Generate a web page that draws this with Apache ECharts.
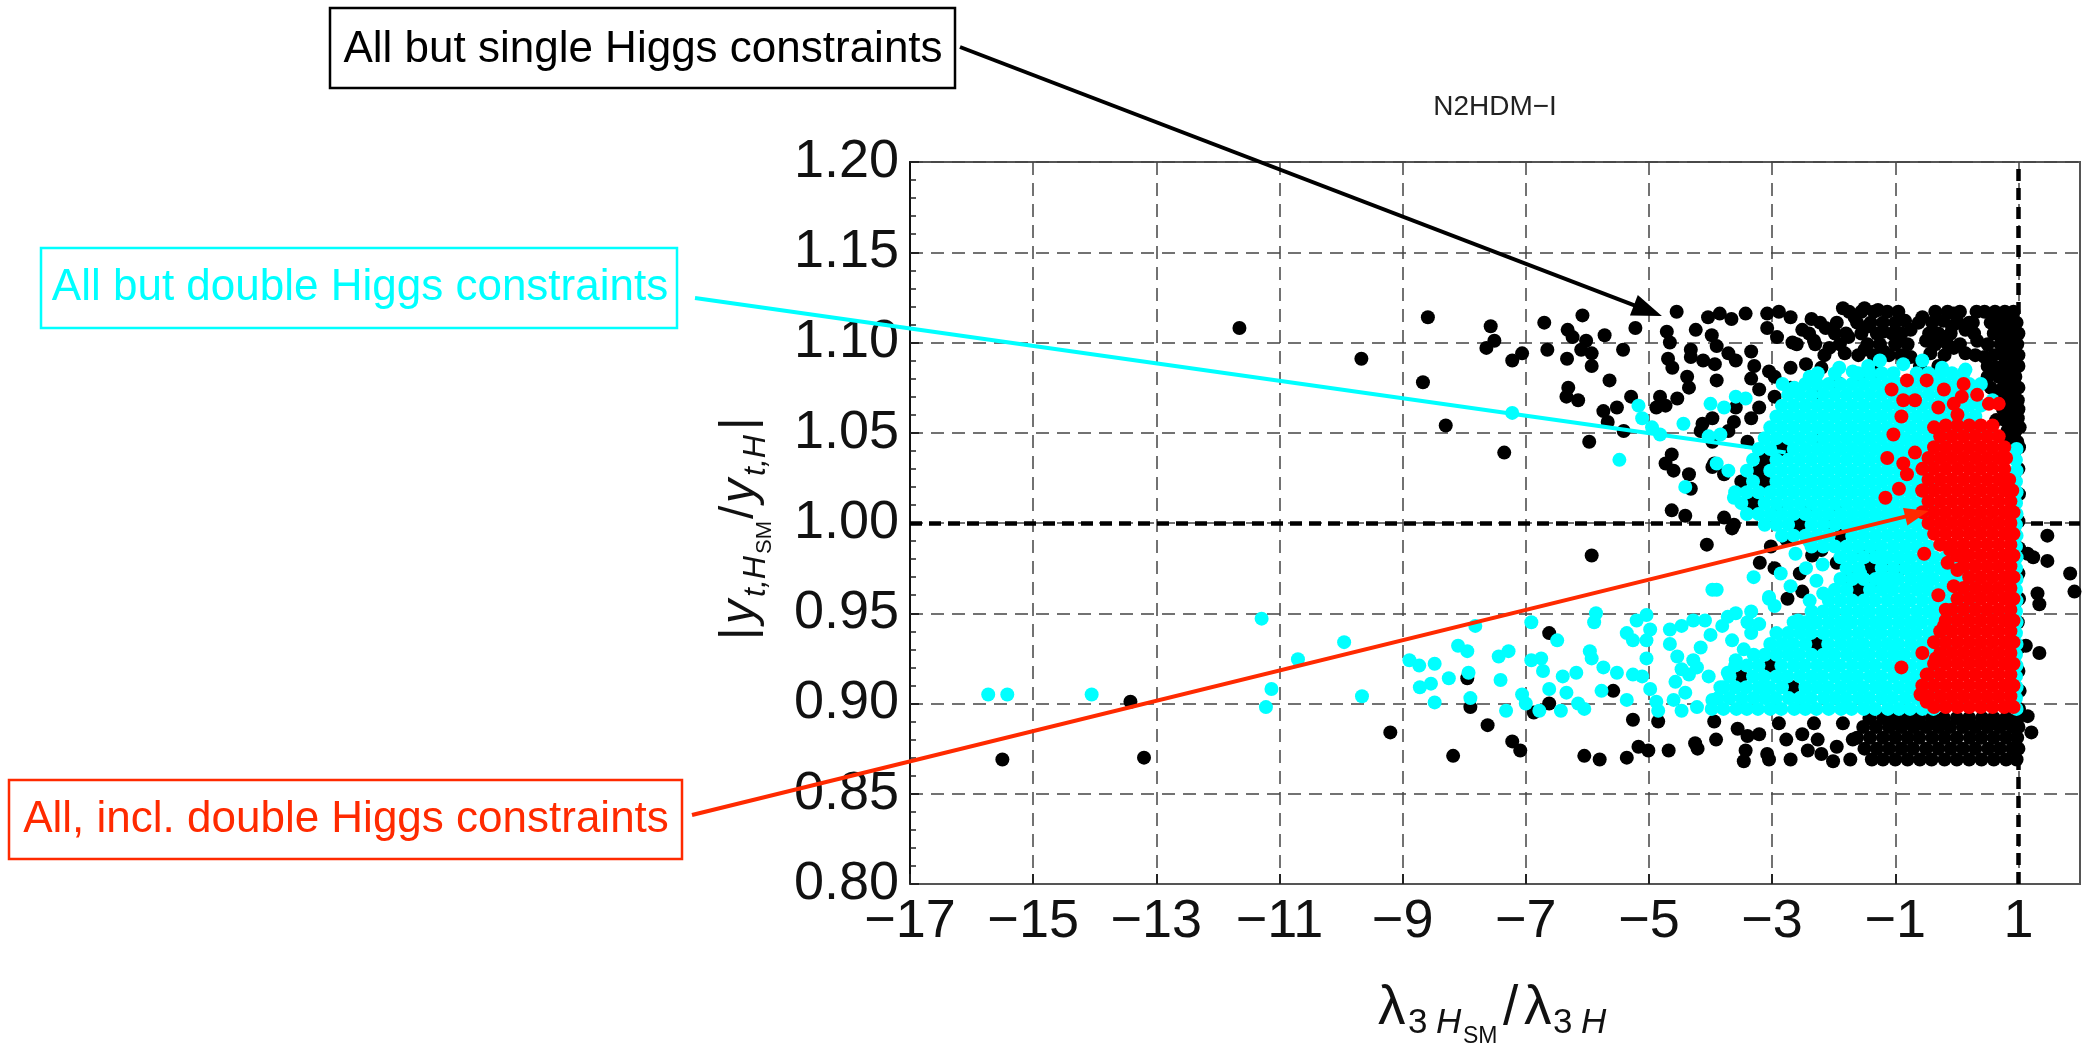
<!DOCTYPE html>
<html>
<head>
<meta charset="utf-8">
<title>N2HDM-I</title>
<script src="https://cdn.jsdelivr.net/npm/echarts@6/dist/echarts.min.js"></script>
<style>
  html, body { margin: 0; padding: 0; background: #ffffff; }
  #main { width: 2090px; height: 1047px; }
</style>
</head>
<body>
<div id="main"></div>
<script>
// ---------------------------------------------------------------
// Axis ticks
// ---------------------------------------------------------------
const xTicks = [-17, -15, -13, -11, -9, -7, -5, -3, -1, 1];
const yTickStep = 0.05;

// ---------------------------------------------------------------
// "All but single Higgs constraints" (black) — isolated points
// ---------------------------------------------------------------
const blackPoints = [
  [-15.5,0.869],[-13.42,0.901],[-13.2,0.870],[-11.65,1.108],[-9.67,1.091],[-9.2,0.884],[-8.67,1.078],[-8.59,1.114],[-8.30,1.054],[-8.18,0.871],[-7.95,0.914],[-7.9,0.898],
  [-7.64,1.097],[-7.57,1.109],[-7.51,1.101],[-7.35,1.039],[-7.22,1.090],[-7.06,1.094],[-6.70,1.111],[-6.65,1.096],[-6.34,1.070],[-6.33,1.091],[-6.32,1.107],[-6.31,1.075],[-6.24,1.103],[-6.15,1.068],[-6.10,1.096],[-6.08,1.115],[-6.02,1.101],[-5.97,1.045],[-5.93,1.094],[-5.93,1.087],[-5.74,1.062],[-5.72,1.104],[-5.67,1.056],[-5.64,1.079],[-5.52,1.064],[-5.42,1.096],[-5.41,1.051],[-5.29,1.070],[-5.22,1.108],
  [-4.88,1.064],[-4.82,1.070],[-4.73,1.065],[-4.73,1.033],[-4.71,1.106],[-4.69,1.091],[-4.66,1.100],[-4.63,1.038],[-4.63,1.007],[-4.62,1.086],[-4.60,1.029],[-4.55,1.117],[-4.54,1.069],[-4.41,1.004],[-4.38,1.081],[-4.35,1.075],[-4.35,1.027],[-4.32,1.096],[-4.32,1.092],[-4.32,1.019],[-4.24,1.107],[-4.16,1.051],[-4.13,1.055],[-4.12,1.090],[-4.04,1.114],[-3.98,1.104],[-3.97,1.058],[-3.97,1.045],[-3.97,1.031],[-3.94,1.033],[-3.93,1.088],[-3.90,1.098],[-3.90,1.079],[-3.85,1.116],[-3.78,1.027],[-3.78,1.003],[-3.71,1.094],[-3.71,1.051],[-3.66,1.113],[-3.65,0.997],[-3.62,1.056],[-3.59,1.090],[-3.59,1.064],[-3.43,1.116],[-3.40,1.045],[-3.34,1.095],[-3.34,1.080],[-3.34,1.058],[-3.29,1.087],[-3.21,1.074],[-3.21,1.064],[-3.21,1.012],
  [-3.08,1.116],[-3.08,1.108],[-3.05,1.084],[-2.96,1.081],[-2.96,1.070],[-2.92,1.103],[-2.89,1.117],[-2.89,1.008],[-2.70,1.114],[-2.70,1.086],[-2.70,1.075],[-2.67,1.100],[-2.58,0.999],[-2.51,1.107],[-2.45,1.088],[-2.39,1.007],[-2.36,1.113],[-2.32,1.101],[-2.32,1.071],[-2.20,1.086],[-2.13,1.108],[-2.07,1.097],[-2.07,0.999],[-1.95,1.078],[-1.95,1.008],[-1.85,1.119],[-1.82,1.094],[-1.76,1.103],[-1.66,1.114],[-1.56,1.082],[-1.50,1.119],[-1.50,1.096],[-1.44,1.109],[-1.31,1.084],[-1.28,1.118],[-1.19,1.106],[-1.19,1.095],[-1.13,1.117],[-0.94,1.101],[-0.84,1.112],[-0.75,1.107],[-0.75,1.092],[-0.56,1.114],[-0.50,1.101],[-0.43,1.094],[-0.22,1.112],[-0.18,1.103],[-0.08,1.109],[-0.05,1.116],[-0.05,1.097],[0.14,1.107],[0.14,1.094],[0.26,1.111],[0.33,1.101],[0.45,1.117],[0.45,1.092],[0.64,1.086],[0.64,1.072],[0.64,1.057],[0.71,1.099],[0.77,1.064],[0.80,1.112],[0.86,1.106],[0.90,1.051],[0.93,1.082],[0.96,1.094],[0.96,1.075],[0.99,1.087],[0.99,1.068],[0.99,1.058],[1.02,1.053],
  [-4.06,0.988],[-3.62,0.999],[-3.02,0.987],[-2.96,0.975],[-2.77,0.991],[-2.51,0.962],[-2.20,0.985],[-1.95,0.978],[-1.76,0.970],[-1.54,0.985],[-1.50,0.965],[-1.38,0.985],[-1.31,0.968],[-1.19,0.976],[-0.94,0.974],[-5.93,0.982],[-6.62,0.939],
  [-2.75,0.958],[-2.35,0.982],[-3.20,0.978],[-2.55,0.972],[-1.60,0.963],[-1.41,0.975],[-1.89,0.993],[-2.55,0.999],
  [-3.31,1.011],[-3.12,1.023],[-3.50,1.023],[-3.12,1.035],[-2.84,1.041],[-3.22,1.029],[-2.27,1.047],
  [-3.03,0.921],[-2.66,0.909],[-2.27,0.933],[-3.50,0.915],
  [-7.62,0.888],[-7.22,0.879],[-7.09,0.874],[-6.87,0.895],[-6.62,0.900],[-6.05,0.871],[-5.80,0.869],[-5.58,0.907],[-5.36,0.870],[-5.26,0.891],[-5.17,0.876],[-5.01,0.874],[-4.85,0.890],[-4.68,0.874],[-4.25,0.878],[-4.21,0.875],[-3.94,0.890],[-3.91,0.880],[-3.56,0.886],[-3.46,0.868],[-3.43,0.874],[-3.40,0.882],[-3.21,0.883],[-3.08,0.872],[-3.05,0.869],[-2.89,0.889],[-2.77,0.880],[-2.70,0.869],[-2.51,0.883],[-2.42,0.874],[-2.32,0.889],[-2.26,0.880],[-2.20,0.872],[-2.01,0.868],[-1.95,0.876],[-1.85,0.889],[-1.73,0.869],[-1.69,0.880],
  [1.15,0.983],[1.24,0.981],[1.47,0.979],[1.47,0.993],[1.84,0.972],[1.91,0.962],[1.31,0.961],[1.34,0.955],[1.12,0.932],[1.34,0.928],[1.15,0.893],[1.21,0.884],
  [1.01,0.897],[1.02,0.907],[1.00,0.918],[1.01,0.931],[0.99,0.945],[1.01,0.958],[1.00,0.972],[1.01,0.986],[1.00,1.001],[1.01,1.016],[1.00,1.030],[1.01,1.042]
];

// Black, densely populated rows: [y, [x values]]
const blackRows = [
  [1.117, [-1.75,-1.55,-1.35,-0.95,-0.35,-0.15,0.05,0.32,0.62,0.78,0.92]],
  [1.111, [-2.22,-1.95,-1.62,-1.40,-1.20,-1.00,-0.62,-0.40,0.02,0.20,0.55,0.70,0.97]],
  [1.105, [-2.40,-1.98,-1.80,-1.55,-1.30,-1.05,-0.90,-0.45,-0.30,-0.10,0.28,0.60,0.75,0.92,1.00]],
  [1.099, [-2.60,-2.30,-1.90,-1.45,-1.25,-1.00,-0.80,-0.35,-0.15,0.05,0.50,0.85,0.98]],
  [1.093, [-2.15,-1.60,-1.35,-1.10,-0.90,-0.20,0.30,0.60,0.75,0.88,1.00]],
  [1.087, [-0.60,-0.30,0.50,0.75,0.88,1.00]],
  [1.081, [0.50,0.68,0.82,0.95]],
  [1.075, [0.55,0.75,0.88,1.00]],
  [1.069, [0.70,0.82,0.95]],
  [1.063, [0.75,0.88,1.00]],
  [1.057, [0.78,0.90]],
  [1.051, [0.82,0.95]],
  [1.045, [0.85,0.98]],
  [0.892, [-1.42,-1.20,-1.01,-0.80,-0.61,-0.40,-0.21,0.00,0.20,0.41,0.60,0.80,0.99]],
  [0.887, [-1.52,-1.31,-1.10,-0.90,-0.70,-0.50,-0.30,-0.11,0.10,0.30,0.50,0.70,0.90,1.00]],
  [0.881, [-1.62,-1.41,-1.20,-1.00,-0.80,-0.61,-0.40,-0.20,0.00,0.21,0.40,0.60,0.80,0.98]],
  [0.875, [-1.50,-1.30,-1.10,-0.90,-0.71,-0.50,-0.30,-0.10,0.10,0.30,0.51,0.70,0.90,1.00]],
  [0.869, [-1.38,-1.20,-1.00,-0.80,-0.60,-0.41,-0.20,0.00,0.20,0.40,0.60,0.80,0.97]]
];

// ---------------------------------------------------------------
// "All but double Higgs constraints" (cyan)
// ---------------------------------------------------------------
const cyanPoints = [
  [-15.73,0.905],[-15.42,0.905],[-14.05,0.905],[-11.29,0.947],[-11.22,0.898],[-11.13,0.908],[-10.70,0.9245],[-9.95,0.934],[-9.66,0.904],[-8.89,0.924],[-8.73,0.921],[-8.48,0.922],[-8.72,0.909],[-8.54,0.911],[-8.48,0.9006],[-8.25,0.914],[-8.10,0.932],[-7.95,0.929],[-7.93,0.917],[-7.90,0.903],[-7.82,0.943],
  [-7.22,1.061],[-5.48,1.035],[-5.17,1.065],[-5.11,1.058],[-4.95,1.053],[-4.82,1.049],[-4.44,1.055],[-4.41,1.020],[-4.00,1.066],[-3.78,1.064],[-3.59,1.070],[-3.43,1.069],[-4.03,1.048],[-3.84,1.049],[-3.90,1.033],[-3.71,1.029],[-3.62,1.014],
  [-2.83,1.077],[-2.64,1.075],[-2.39,1.081],[-2.26,1.083],[-1.91,1.086],[-1.69,1.084],[-1.44,1.087],[-1.25,1.090],[-0.87,1.088],[-0.56,1.090],[-0.24,1.086],[0.14,1.085],[0.39,1.077],[0.58,1.068],
  [-2.86,0.972],[-3.90,0.963],[-1.25,0.981],[-1.19,0.968],[-1.57,0.972],[-2.17,0.961],[-2.39,0.957],[-3.05,0.958],[-2.96,0.954],[-2.58,0.946],
  [-2.70,0.965],[-2.45,0.975],[-2.28,0.968],[-2.62,0.983],[-2.18,0.977],[-3.30,0.970],[-2.40,0.990],
  [-7.44,0.926],[-7.28,0.929],[-7.41,0.913],[-7.32,0.896],[-7.06,0.905],[-6.91,0.945],[-6.91,0.924],[-6.75,0.925],[-6.72,0.918],[-6.78,0.896],[-7.00,0.900],[-6.49,0.935],[-6.62,0.908],[-6.40,0.915],[-6.18,0.917],[-6.34,0.906],[-6.43,0.896],[-6.15,0.900],[-6.05,0.897],
  [-5.86,0.950],[-5.89,0.945],[-5.96,0.929],[-5.93,0.925],[-5.74,0.920],[-5.77,0.907],[-5.52,0.917],[-5.36,0.939],[-5.26,0.935],[-5.20,0.946],[-5.04,0.949],[-4.98,0.941],[-5.04,0.935],[-5.36,0.902],[-5.26,0.916],[-5.04,0.925],[-5.11,0.915],[-4.98,0.908],[-4.88,0.901],[-4.85,0.896],
  [-4.66,0.941],[-4.66,0.933],[-4.47,0.943],[-4.28,0.946],[-4.09,0.946],[-3.97,0.963],[-3.81,0.943],[-3.72,0.948],[-3.59,0.950],[-3.34,0.951],[-3.40,0.945],[-4.54,0.926],[-4.47,0.919],[-4.28,0.924],[-4.16,0.931],[-4.00,0.938],[-4.57,0.912],[-4.35,0.916],[-4.22,0.920],[-4.60,0.902],[-4.41,0.906],[-4.22,0.898],[-4.47,0.896],[-3.97,0.902],[-4.03,0.915],[-3.84,0.909],[-3.65,0.935],[-3.46,0.930],[-3.34,0.939],[-3.21,0.944],[-3.05,0.959],[-3.59,0.924],[-3.72,0.917]
];

const cyanRows = [
  [0.897, [-3.98,-3.79,-3.58,-3.41,-3.23,-3.03,-2.85,-2.64,-2.46,-2.28,-2.08,-1.88,-1.71,-1.51,-1.33,-1.12,-0.94,-0.76,-0.56,-0.38,0.97]],
  [0.903, [-3.88,-3.69,-3.49,-3.30,-3.12,-2.94,-2.73,-2.55,-2.37,-2.16,-1.98,-1.80,-1.60,-1.42,-1.22,-1.04,-0.84,-0.65,-0.47,0.96]],
  [0.909, [-3.79,-3.60,-3.42,-3.22,-3.04,-2.84,-2.46,-2.27,-2.09,-1.89,-1.70,-1.52,-1.32,-1.14,-0.94,-0.75,-0.57,-0.37,0.97]],
  [0.915, [-3.69,-3.31,-3.13,-2.93,-2.75,-2.55,-2.36,-2.18,-1.98,-1.79,-1.61,-1.41,-1.23,-1.03,-0.84,-0.66,-0.46,0.96]],
  [0.921, [-3.60,-3.41,-3.22,-2.85,-2.65,-2.47,-2.27,-2.08,-1.90,-1.70,-1.51,-1.33,-1.13,-0.95,-0.75,-0.56,-0.38,0.97]],
  [0.927, [-3.30,-3.12,-2.93,-2.74,-2.56,-2.36,-2.17,-1.99,-1.79,-1.60,-1.42,-1.22,-1.03,-0.85,-0.65,-0.46,-0.28,0.96]],
  [0.933, [-3.03,-2.84,-2.66,-2.46,-2.09,-1.89,-1.70,-1.52,-1.32,-1.13,-0.95,-0.75,-0.56,-0.38,-0.18,0.97]],
  [0.939, [-2.93,-2.74,-2.55,-2.37,-2.17,-1.98,-1.80,-1.60,-1.41,-1.23,-1.03,-0.84,-0.66,-0.46,-0.27,0.96]],
  [0.945, [-2.65,-2.46,-2.28,-2.08,-1.89,-1.71,-1.51,-1.32,-1.14,-0.94,-0.75,-0.57,-0.37,-0.18,0.97]],
  [0.951, [-2.36,-2.17,-1.99,-1.79,-1.60,-1.42,-1.22,-1.03,-0.85,-0.65,-0.46,-0.28,-0.08,0.11,0.96]],
  [0.957, [-2.08,-1.89,-1.70,-1.51,-1.33,-1.13,-0.94,-0.76,-0.56,-0.37,-0.19,0.01,0.20,0.97]],
  [0.963, [-1.98,-1.79,-1.41,-1.22,-1.04,-0.84,-0.65,-0.47,-0.27,-0.08,0.11,0.96]],
  [0.969, [-1.89,-1.70,-1.51,-1.32,-1.13,-0.95,-0.75,-0.56,-0.38,-0.18,0.01,0.20,0.97]],
  [0.975, [-1.79,-1.60,-1.22,-1.03,-0.84,-0.66,-0.46,-0.27,-0.09,0.11,0.96]],
  [0.981, [-1.89,-1.70,-1.51,-1.32,-1.13,-0.94,-0.76,-0.56,-0.37,-0.18,0.01,0.97]],
  [0.987, [-2.36,-2.17,-1.98,-1.79,-1.60,-1.41,-1.23,-1.03,-0.84,-0.65,-0.46,0.96]],
  [0.993, [-2.84,-2.65,-2.46,-2.27,-2.08,-1.70,-1.51,-1.32,-1.13,-0.94,-0.75,-0.56,0.97]],
  [0.999, [-3.12,-2.93,-2.74,-2.36,-2.17,-1.98,-1.79,-1.60,-1.41,-1.22,-1.03,-0.84,-0.65,-0.46,0.96]],
  [1.005, [-3.41,-3.22,-3.03,-2.84,-2.65,-2.46,-2.27,-2.08,-1.89,-1.70,-1.51,-1.32,-1.13,-0.94,-0.75,-0.56,0.97]],
  [1.011, [-3.50,-3.12,-2.93,-2.74,-2.55,-2.36,-2.17,-1.98,-1.79,-1.60,-1.41,-1.22,-1.03,-0.84,-0.65,-0.46,0.96]],
  [1.017, [-3.60,-3.41,-3.22,-3.03,-2.84,-2.65,-2.46,-2.27,-2.08,-1.89,-1.70,-1.51,-1.32,-1.13,-0.94,-0.75,-0.56,0.97]],
  [1.023, [-3.31,-2.93,-2.74,-2.55,-2.36,-2.17,-1.98,-1.79,-1.60,-1.41,-1.22,-1.03,-0.84,-0.65,-0.46,0.96]],
  [1.029, [-3.41,-3.03,-2.84,-2.65,-2.46,-2.27,-2.08,-1.89,-1.70,-1.51,-1.32,-1.13,-0.94,-0.75,-0.56,0.97]],
  [1.035, [-3.31,-2.93,-2.74,-2.55,-2.36,-2.17,-1.98,-1.79,-1.60,-1.41,-1.22,-1.03,-0.84,-0.65,-0.46,0.96]],
  [1.041, [-3.22,-3.03,-2.65,-2.46,-2.27,-2.08,-1.89,-1.70,-1.51,-1.32,-1.13,-0.94,-0.75,-0.56,0.97]],
  [1.047, [-3.12,-2.93,-2.74,-2.55,-2.36,-2.17,-1.98,-1.79,-1.60,-1.41,-1.22,-1.03,-0.84,-0.65,-0.46,-0.27]],
  [1.053, [-3.03,-2.84,-2.65,-2.46,-2.27,-2.08,-1.89,-1.70,-1.51,-1.32,-1.13,-0.94,-0.75,-0.56,-0.37,-0.18,0.01,0.20,0.39]],
  [1.059, [-2.93,-2.74,-2.55,-2.36,-2.17,-1.98,-1.79,-1.60,-1.41,-1.22,-1.03,-0.84,-0.65,-0.46,-0.27,-0.08,0.11,0.30]],
  [1.065, [-2.84,-2.65,-2.46,-2.27,-2.08,-1.89,-1.70,-1.51,-1.32,-1.13,-0.94,-0.75,-0.56,-0.37,-0.18,0.01,0.20,0.39]],
  [1.071, [-2.74,-2.55,-2.36,-2.17,-1.98,-1.79,-1.60,-1.41,-1.22,-1.03,-0.84,-0.65,-0.46,-0.27,-0.08,0.11,0.30]],
  [1.077, [-2.46,-2.27,-2.08,-1.89,-1.70,-1.51,-1.32,-1.13,-0.94,-0.75,-0.56,-0.37,-0.18,0.01,0.20]],
  [1.083, [-1.98,-1.60,-1.41,-1.22,-1.03,-0.65,-0.46,-0.27,-0.08,0.11]]
];

// ---------------------------------------------------------------
// "All, incl. double Higgs constraints" (red)
// ---------------------------------------------------------------
const redPoints = [
  [-0.81,1.079],[-0.49,1.079],[-1.06,1.074],[-0.21,1.074],[0.11,1.077],[-0.87,1.068],[-0.68,1.068],[-0.90,1.059],[-0.30,1.064],[-0.05,1.066],[0.08,1.070],[0.33,1.071],[0.52,1.066],[0.68,1.066],[-1.03,1.049],[-0.37,1.053],[0.01,1.060],[-1.13,1.036],[-0.68,1.039],[-0.87,1.033],[-0.81,1.027],[-0.94,1.019],[-1.16,1.014],[-0.56,1.018],
  [-0.90,0.920],[-0.56,0.928],[-0.49,0.916],[-0.34,0.925],[-0.18,0.952],[-0.21,0.943],[-0.05,0.965],[0.01,0.974],[0.08,0.983],[-0.53,0.983],[-0.11,0.985],[-0.59,0.905],[-0.49,0.901],[-0.30,0.960],[-0.15,0.978]
];

const redRows = [
  [0.898, [-0.37,-0.18,0.01,0.20,0.39,0.58,0.77,0.92]],
  [0.904, [-0.46,-0.27,-0.08,0.11,0.30,0.49,0.68,0.87]],
  [0.910, [-0.56,-0.37,-0.18,0.01,0.20,0.39,0.58,0.77,0.92]],
  [0.916, [-0.46,-0.27,-0.08,0.11,0.30,0.49,0.68,0.87]],
  [0.922, [-0.37,-0.18,0.01,0.20,0.39,0.58,0.77,0.92]],
  [0.928, [-0.27,-0.08,0.11,0.30,0.49,0.68,0.87]],
  [0.934, [-0.37,-0.18,0.01,0.20,0.39,0.58,0.77,0.92]],
  [0.940, [-0.27,-0.08,0.11,0.30,0.49,0.68,0.87]],
  [0.946, [-0.18,0.01,0.20,0.39,0.58,0.77,0.92]],
  [0.952, [-0.08,0.11,0.30,0.49,0.68,0.87]],
  [0.958, [0.01,0.20,0.39,0.58,0.77,0.92]],
  [0.964, [0.11,0.30,0.49,0.68,0.87]],
  [0.970, [0.20,0.39,0.58,0.77,0.92]],
  [0.976, [0.11,0.30,0.49,0.68,0.87]],
  [0.982, [0.01,0.20,0.39,0.58,0.77,0.92]],
  [0.988, [-0.27,-0.08,0.11,0.30,0.49,0.68,0.87]],
  [0.994, [-0.37,-0.18,0.01,0.20,0.39,0.58,0.77,0.92]],
  [1.000, [-0.46,-0.27,-0.08,0.11,0.30,0.49,0.68,0.87]],
  [1.006, [-0.56,-0.37,-0.18,0.01,0.20,0.39,0.58,0.77,0.92]],
  [1.012, [-0.46,-0.27,-0.08,0.11,0.30,0.49,0.68,0.87]],
  [1.018, [-0.56,-0.37,-0.18,0.01,0.20,0.39,0.58,0.77,0.90]],
  [1.024, [-0.46,-0.27,-0.08,0.11,0.30,0.49,0.68,0.85]],
  [1.030, [-0.56,-0.37,-0.18,0.01,0.20,0.39,0.58,0.77]],
  [1.036, [-0.46,-0.27,-0.08,0.11,0.30,0.49,0.68,0.80]],
  [1.042, [-0.37,-0.18,0.01,0.20,0.39,0.58,0.77]],
  [1.048, [-0.27,-0.08,0.11,0.30,0.49,0.68]],
  [1.054, [-0.18,0.01,0.20,0.39,0.58]]
];

// ---------------------------------------------------------------
// Annotation texts and where their arrows point (data coordinates)
// ---------------------------------------------------------------
const noteSingle = 'All but single Higgs constraints';
const noteDouble = 'All but double Higgs constraints';
const noteAll = 'All, incl. double Higgs constraints';
const arrowTargetSingle = [-4.79, 1.1147];
const arrowTargetDouble = [-2.78, 1.039];
const arrowTargetAll = [-0.46, 1.0067];

// ---------------------------------------------------------------
const expandRows = rows => rows.flatMap(([y, xs]) => xs.map(x => [x, y]));
const blackData = blackPoints.concat(expandRows(blackRows));
const cyanData = cyanPoints.concat(expandRows(cyanRows));
const redData = redPoints.concat(expandRows(redRows));

const AXIS_FONT = '"Liberation Sans", Arial, Helvetica, sans-serif';
const NOTE_FONT = '"Comic Sans MS", "Liberation Sans", Arial, sans-serif';
const CYAN = '#00FFFF';
const RED_MARK = '#FF0000';
const RED_NOTE = '#FF2A00';
const DOT = 14;

const minus = v => (v < 0 ? '\u2212' + Math.abs(v) : String(v));

const chart = echarts.init(document.getElementById('main'), null, { renderer: 'canvas' });

const option = {
  animation: false,
  backgroundColor: '#ffffff',
  title: {
    text: 'N2HDM\u2212I',
    left: 1495,
    top: 93,
    textAlign: 'center',
    padding: 0,
    textStyle: { fontSize: 28, fontWeight: 'normal', fontFamily: AXIS_FONT, color: '#222' }
  },
  grid: {
    left: 910, top: 162, width: 1170, height: 722,
    show: true, borderColor: '#555', borderWidth: 2,
    containLabel: false, outerBoundsMode: 'none'
  },
  xAxis: {
    type: 'value', min: -17, max: 2,
    axisLine: { show: true, onZero: false, lineStyle: { color: '#555', width: 2 } },
    axisTick: { show: true, inside: true, length: 10, customValues: xTicks, lineStyle: { color: '#222', width: 2 } },
    minorTick: { show: false },
    axisLabel: {
      customValues: xTicks, formatter: v => minus(v), margin: 11,
      fontSize: 54, fontFamily: AXIS_FONT, color: '#111'
    },
    splitLine: { show: true, lineStyle: { color: '#444', width: 1.5, type: [13, 8] } }
  },
  yAxis: {
    type: 'value', min: 0.8, max: 1.2, interval: yTickStep,
    axisLine: { show: true, onZero: false, lineStyle: { color: '#111', width: 2 } },
    axisTick: { show: true, inside: true, length: 9, lineStyle: { color: '#222', width: 2 } },
    minorTick: { show: true, splitNumber: 5, length: 6, lineStyle: { color: '#222', width: 1.5 } },
    axisLabel: {
      formatter: v => v.toFixed(2), margin: 11,
      fontSize: 54, fontFamily: AXIS_FONT, color: '#111'
    },
    splitLine: { show: true, lineStyle: { color: '#444', width: 1.5, type: [13, 8] } }
  },
  series: [
    {
      name: noteSingle, type: 'scatter', data: blackData, symbolSize: DOT, silent: true, z: 2,
      itemStyle: { color: '#000000', opacity: 1 },
      markLine: {
        silent: true, z: 1, symbol: ['none', 'none'], label: { show: false },
        lineStyle: { color: '#000', width: 4.5, type: [12, 7] },
        data: [{ yAxis: 1 }, { xAxis: 1 }]
      }
    },
    {
      name: noteDouble, type: 'scatter', data: cyanData, symbolSize: DOT, silent: true, z: 3,
      itemStyle: { color: CYAN, opacity: 1 }
    },
    {
      name: noteAll, type: 'scatter', data: redData, symbolSize: DOT, silent: true, z: 4,
      itemStyle: { color: RED_MARK, opacity: 1 }
    }
  ]
};

chart.setOption(option);

// ---- annotations: boxes, arrows and axis titles ----
function piece(text, x, base, size, italic, color) {
  return {
    type: 'text', x: x, y: base - 0.35 * size, silent: true,
    style: {
      text: text, fill: color || '#111',
      font: (italic ? 'italic ' : '') + size + 'px ' + AXIS_FONT,
      textAlign: 'left', verticalAlign: 'middle'
    }
  };
}

function noteBox(x, y, w, h, color, text, cx, cy) {
  return [
    { type: 'rect', shape: { x: x, y: y, width: w, height: h }, z: 100, silent: true,
      style: { fill: '#ffffff', stroke: color, lineWidth: 2.5 } },
    { type: 'text', x: cx, y: cy, z: 101, silent: true,
      style: { text: text, fill: color, font: '44px ' + NOTE_FONT, textAlign: 'center', verticalAlign: 'middle' } }
  ];
}

function arrow(tail, tip, color, width, headLen, headHalf) {
  const dx = tip[0] - tail[0], dy = tip[1] - tail[1];
  const L = Math.hypot(dx, dy);
  const ux = dx / L, uy = dy / L, nx = -uy, ny = ux;
  const els = [];
  if (headLen > 0) {
    const bx = tip[0] - ux * headLen, by = tip[1] - uy * headLen;
    els.push({ type: 'line', z: 100, silent: true,
      shape: { x1: tail[0], y1: tail[1], x2: bx + ux * 2, y2: by + uy * 2 },
      style: { stroke: color, lineWidth: width } });
    els.push({ type: 'polygon', z: 100, silent: true,
      shape: { points: [[tip[0], tip[1]], [bx + nx * headHalf, by + ny * headHalf], [bx - nx * headHalf, by - ny * headHalf]] },
      style: { fill: color } });
  } else {
    els.push({ type: 'line', z: 100, silent: true,
      shape: { x1: tail[0], y1: tail[1], x2: tip[0], y2: tip[1] },
      style: { stroke: color, lineWidth: width } });
  }
  return els;
}

const toPx = p => chart.convertToPixel({ gridIndex: 0 }, p);

const graphics = [].concat(
  arrow([960, 47], toPx(arrowTargetSingle), '#000000', 4, 30, 11),
  arrow([695, 298], toPx(arrowTargetDouble), CYAN, 4, 0, 0),
  arrow([692, 815], toPx(arrowTargetAll), RED_NOTE, 4, 24, 9),
  noteBox(330, 8, 625, 80, '#000000', noteSingle, 643, 50),
  noteBox(41, 248, 636, 80, CYAN, noteDouble, 360, 288),
  noteBox(9, 780, 673, 79, RED_NOTE, noteAll, 346, 820),
  [
    // x-axis title: λ_{3 H_SM} / λ_{3 H}
    { type: 'group', silent: true, children: [
      piece('\u03bb', 1378, 1028, 55),
      piece('3', 1408, 1036, 35),
      piece('H', 1436, 1036, 35, true),
      piece('SM', 1463, 1045, 23),
      piece('/', 1503, 1028, 55),
      piece('\u03bb', 1524, 1028, 55),
      piece('3', 1553, 1036, 35),
      piece('H', 1581, 1036, 35, true)
    ] },
    // y-axis title: |y_{t,H_SM} / y_{t,H}|, reading bottom to top
    { type: 'group', x: 757, y: 640, rotation: Math.PI / 2, silent: true, children: [
      piece('|', 0, 0, 48),
      piece('y', 16, 0, 48, true),
      piece('t,H', 43, 10, 32, true),
      piece('SM', 86, 16, 22),
      piece('/', 121, 0, 48),
      piece('y', 137, 0, 48, true),
      piece('t,H', 164, 10, 32, true),
      piece('|', 210, 0, 48)
    ] }
  ]
);

chart.setOption({ graphic: graphics });
</script>
</body>
</html>
